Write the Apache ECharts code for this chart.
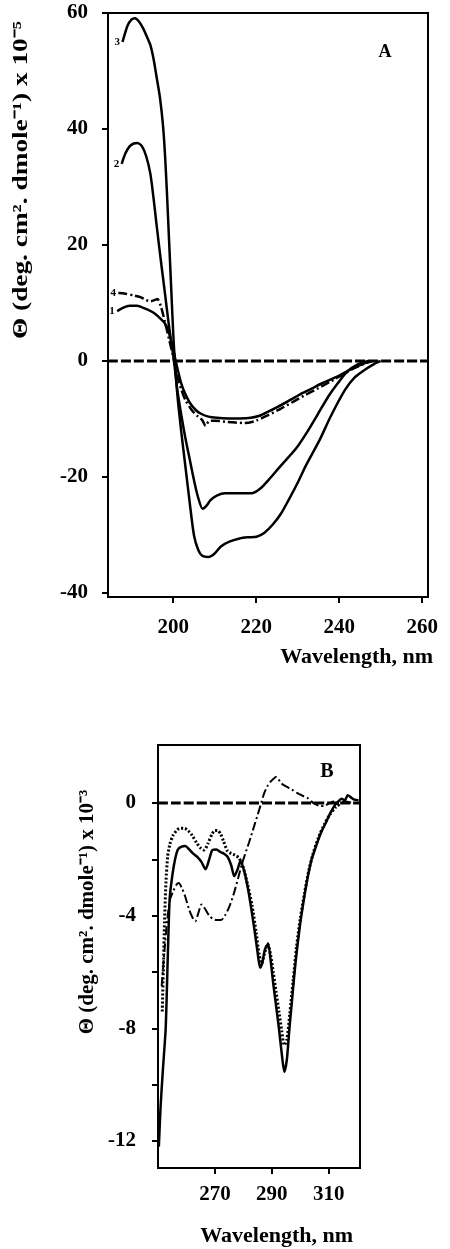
<!DOCTYPE html>
<html>
<head>
<meta charset="utf-8">
<script src="https://cdn.jsdelivr.net/npm/echarts@6/dist/echarts.min.js"></script>
<style>
html,body{margin:0;padding:0;background:#fff;}
#c{width:450px;height:1249px;}
</style>
</head>
<body>
<div id="c"></div>
<script>
// ---------- Panel A data (wavelength nm, ellipticity x10^-5) ----------
const wlA1 = [186.5,188,189.5,191.3,193,195.1,196.5,198,199,200,201,202,202.8,204,205.5,206.7,208.5,210.5,213.2,216,218.7,221,223,225.2,228,230.5,233,236,239.5,242.6,245,247.5];
const valA1 = [8.6,9.2,9.5,9.5,9.1,8.4,7.6,6.5,4.8,2.0,-1.2,-4.0,-5.5,-7.2,-8.5,-9.1,-9.6,-9.8,-9.9,-9.9,-9.8,-9.4,-8.7,-7.9,-6.8,-5.8,-4.9,-3.8,-2.7,-1.5,-0.7,0];

const wlA4 = [186.8,188.5,190.5,192.1,193.5,194.5,195.5,196.2,197,198,199,200,201,202,203,204.5,206,207,207.8,208.6,210,213,217.2,220,223,226,229,232,235,238,241,243.5,246,248];
const valA4 = [11.7,11.6,11.3,11.0,10.5,10.3,10.5,10.7,9.5,6.8,3.8,0.8,-2.5,-5.0,-6.8,-8.5,-9.6,-10.2,-11.2,-10.4,-10.3,-10.5,-10.7,-10.3,-9.3,-8.2,-7.0,-5.8,-4.7,-3.5,-2.3,-1.3,-0.5,0];

const wlA2 = [187.6,188.5,189.5,190.5,191.4,192.5,193.5,194.5,195.2,196,197,198,199,200.2,201,202,203,204,205,206,207.1,208,209,210.5,212.5,215,217,219,221,223,226,229.7,232.5,235,237.5,239.7,242,244.5,247];
const valA2 = [34.0,35.8,37.0,37.5,37.6,37.0,35.3,32.3,28.5,23.5,17.5,11.8,6.0,0,-5,-9.5,-13.5,-17,-20.5,-23.5,-25.5,-25.0,-24.0,-23.2,-22.8,-22.8,-22.8,-22.8,-22.0,-20.5,-18,-15,-12,-9,-6,-3.8,-1.8,-0.6,0];

const wlA3 = [187.8,189,190,190.8,191.8,192.8,193.8,194.5,195.3,196,196.8,197.5,198,198.5,199,199.5,200,200.4,201.1,202,203,204,205,206,207,208.5,210,211.5,213.4,216,218,220.1,222,224,226,227.8,230,232,235.3,238,241.4,243.8,246.2,248.5,250];
const valA3 = [55.0,57.8,58.9,59.1,58.5,57.3,55.7,54.5,52,49,45.5,41,36,29,21,13,5,0,-6.5,-12.5,-18.5,-24.5,-30,-32.5,-33.6,-33.8,-33.2,-32,-31.2,-30.6,-30.4,-30.3,-29.6,-28.2,-26.3,-24,-21,-18,-13.6,-9.5,-5,-2.8,-1.5,-0.5,0];

const curveLabelsA = ['1','4','2','3'];
const xTicksA = [200,220,240,260];
const yTicksA = [-40,-20,0,20,40,60];
const xRangeA = [184.3,261.4];
const yRangeA = [-40.7,60];

// ---------- Panel B data (wavelength nm, ellipticity x10^-3) ----------
const wlBsolid = [250.3,250.9,251.7,252.7,253.4,254.1,255,256,257,258.3,259.6,261,262.1,263.9,265.3,266.7,268,269.1,270.5,271.9,273.2,274.4,275.7,276.8,278,279,280.5,281.9,283.9,285,285.9,286.6,287.6,288.7,289.6,290.5,291.5,292.5,293.5,294.4,295.3,296.2,297.2,298.3,299.7,301,302.5,304,305.5,307.3,309,310.6,312,313.3,314.5,315.7,316.7,317.8,319,320.5];
const valBsolid = [-12.2,-10.8,-9.5,-8.0,-5.6,-3.4,-2.6,-2.0,-1.65,-1.55,-1.53,-1.65,-1.77,-1.92,-2.1,-2.35,-2.0,-1.67,-1.65,-1.74,-1.8,-1.9,-2.2,-2.6,-2.35,-2.05,-2.5,-3.2,-4.5,-5.3,-5.85,-5.7,-5.2,-5.0,-5.6,-6.4,-7.2,-8.0,-8.9,-9.55,-9.1,-8.0,-6.9,-5.7,-4.5,-3.6,-2.7,-2.0,-1.55,-1.05,-0.7,-0.35,-0.1,0.05,0.15,0.1,0.28,0.2,0.12,0.1];

const wlBdot = [251.5,251.9,252.3,252.8,253.4,254.2,255.3,256.8,258,259.3,260.6,262,263.5,265,266.2,267.5,269,270,271,272,273,274.4,275.8,277,278.5,280,281.5,283,284.5,285.6,286.4,287.3,288.5,289.6,290.5,291.5,292.5,293.5,294.4,295.3,296.3,297.5,298.7,300,301.5,303,304.5,306.5,308.5,310.5,312.5,314.5];
const valBdot = [-7.4,-5.8,-4.2,-2.8,-1.9,-1.45,-1.15,-0.95,-0.9,-0.9,-0.98,-1.15,-1.4,-1.6,-1.67,-1.45,-1.1,-0.98,-0.98,-1.1,-1.35,-1.7,-1.8,-1.85,-1.95,-2.3,-2.9,-3.6,-4.6,-5.4,-5.7,-5.4,-5.0,-5.4,-6.0,-6.7,-7.4,-8.1,-8.6,-8.4,-7.5,-6.3,-5.1,-4.1,-3.2,-2.4,-1.8,-1.2,-0.75,-0.4,-0.15,0];

const wlBdash = [251.3,252.3,253.3,254.3,255.5,256.5,257.3,258.3,259.5,261,262.3,263.1,264.2,265.3,266.5,268,269.3,270.4,272.2,273.5,275,276.7,278.2,279.6,282,284.1,286,287.3,288.5,289.5,290.5,291.4,292.3,293.3,295.2,297,299,301,302.3,304,305.5,307,308.5,310,311.6,313.5,316,318.5,321];
const valBdash = [-6.5,-5.2,-4.1,-3.4,-3.1,-2.9,-2.84,-3.0,-3.3,-3.8,-4.1,-4.2,-3.9,-3.6,-3.75,-4.0,-4.12,-4.15,-4.15,-4.0,-3.7,-3.2,-2.65,-2.13,-1.4,-0.72,-0.1,0.34,0.6,0.75,0.85,0.92,0.85,0.7,0.58,0.48,0.35,0.25,0.2,0.05,-0.05,-0.11,-0.1,-0.02,0.05,0,0.05,0,0];

const xTicksB = [270,290,310];
const yTicksB = [-12,-10,-8,-6,-4,-2,0];
const yLabelsB = [-12,-8,-4,0];
const xRangeB = [250,321];
const yRangeB = [-12.96,2.06];

// ---------- build ----------
const FONT = 'Liberation Serif';
const zip = (xs, ys) => xs.map((x, i) => [x, ys[i]]);
const K = '#000';

function xAxis(gi, range, ticks, margin) {
  return {
    type: 'value', gridIndex: gi, min: range[0], max: range[1],
    axisLine: { show: true, onZero: false, lineStyle: { color: K, width: 2 } },
    axisTick: { show: true, inside: false, length: 6, customValues: ticks, lineStyle: { color: K, width: 2 } },
    axisLabel: { show: true, customValues: ticks, margin: margin, color: K, fontFamily: FONT, fontWeight: 'bold', fontSize: 21 },
    splitLine: { show: false }
  };
}
function yAxis(gi, range, ticks, labels, margin) {
  return {
    type: 'value', gridIndex: gi, min: range[0], max: range[1],
    axisLine: { show: true, onZero: false, lineStyle: { color: K, width: 2 } },
    axisTick: { show: true, inside: false, length: 6, customValues: ticks, lineStyle: { color: K, width: 2 } },
    axisLabel: { show: true, customValues: labels, margin: margin, color: K, fontFamily: FONT, fontWeight: 'bold', fontSize: 21 },
    splitLine: { show: false }
  };
}
function line(gi, xs, ys, style, label) {
  const s = {
    type: 'line', xAxisIndex: gi, yAxisIndex: gi, data: zip(xs, ys),
    showSymbol: false, symbol: 'none', smooth: 0.25,
    lineStyle: Object.assign({ color: K, width: 2.5 }, style),
    z: 5, silent: true
  };
  if (label) {
    s.markPoint = {
      symbol: 'circle', symbolSize: 1, itemStyle: { color: 'rgba(0,0,0,0)' },
      label: { show: true, position: 'left', distance: 2, formatter: label, color: K, fontFamily: FONT, fontWeight: 'bold', fontSize: 11 },
      data: [{ coord: [xs[0], ys[0]] }]
    };
  }
  return s;
}
const baseDash = { type: [10, 3], width: 3 };
const txt = (t, size, align) => ({ text: t, fontSize: size, fontWeight: 'bold', fontFamily: FONT, fill: K, align: align, verticalAlign: 'middle', textAlign: align, textVerticalAlign: 'middle' });

const option = {
  animation: false,
  backgroundColor: '#fff',
  grid: [
    { left: 108, top: 13, width: 320, height: 584, show: true, borderColor: K, borderWidth: 2, backgroundColor: 'transparent', containLabel: false, outerBoundsMode: 'none' },
    { left: 158, top: 745, width: 202, height: 423, show: true, borderColor: K, borderWidth: 2, backgroundColor: 'transparent', containLabel: false, outerBoundsMode: 'none' }
  ],
  xAxis: [ xAxis(0, xRangeA, xTicksA, 20), xAxis(1, xRangeB, xTicksB, 16) ],
  yAxis: [ yAxis(0, yRangeA, yTicksA, yTicksA, 20), yAxis(1, yRangeB, yTicksB, yLabelsB, 22) ],
  series: [
    line(0, xRangeA, [0, 0], baseDash),
    line(0, wlA1, valA1, {}, curveLabelsA[0]),
    line(0, wlA4, valA4, { type: [9, 3, 2, 3], width: 2.5 }, curveLabelsA[1]),
    line(0, wlA2, valA2, {}, curveLabelsA[2]),
    line(0, wlA3, valA3, {}, curveLabelsA[3]),
    line(1, xRangeB, [0, 0], baseDash),
    line(1, wlBsolid, valBsolid, {}),
    line(1, wlBdot, valBdot, { type: [2, 2], width: 3 }),
    line(1, wlBdash, valBdash, { type: [9, 3, 2, 3], width: 2 })
  ],
  graphic: [
    { type: 'text', x: 22, y: 180, rotation: Math.PI / 2, scaleX: 1.3, scaleY: 1,
      style: txt('Θ (deg. cm². dmole⁻¹) x 10⁻⁵', 21, 'center') },
    { type: 'text', x: 88, y: 912, rotation: Math.PI / 2,
      style: txt('Θ (deg. cm². dmole⁻¹) x 10⁻³', 21, 'center') },
    { type: 'text', x: 433, y: 657, style: txt('Wavelength, nm', 22, 'right') },
    { type: 'text', x: 353, y: 1236, style: txt('Wavelength, nm', 22, 'right') },
    { type: 'text', x: 385, y: 52, style: txt('A', 18, 'center') },
    { type: 'text', x: 327, y: 772, style: txt('B', 20, 'center') }
  ]
};

const chart = echarts.init(document.getElementById('c'), null, { renderer: 'canvas', width: 450, height: 1249 });
chart.setOption(option);
</script>
</body>
</html>
